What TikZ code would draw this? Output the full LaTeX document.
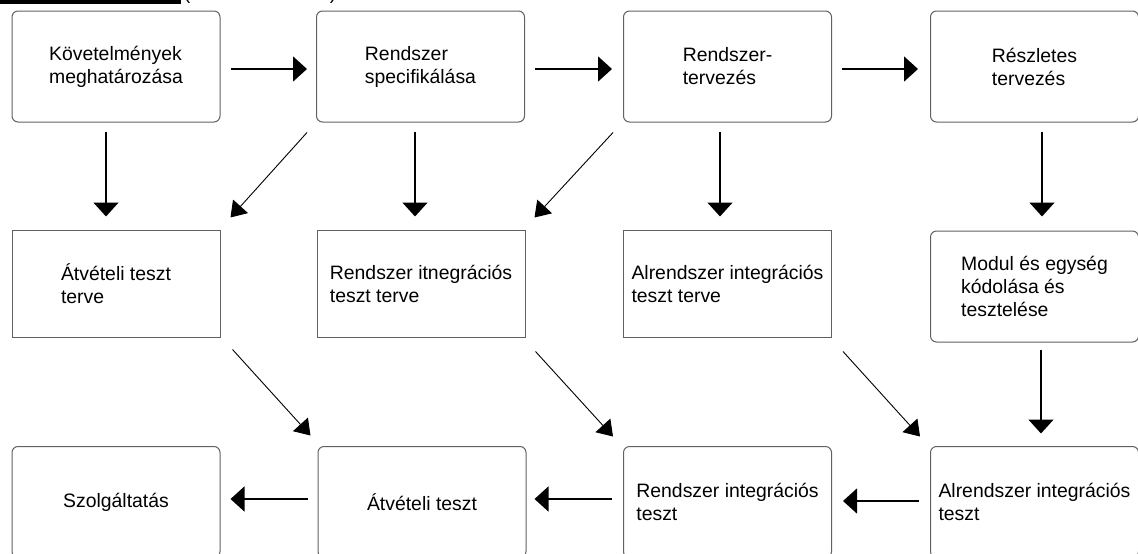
\documentclass[tikz,border=0pt]{standalone}
\usepackage{fontspec}
\setmainfont{Liberation Sans}
\usetikzlibrary{arrows.meta,calc}
\begin{document}
\begin{tikzpicture}[x=1pt,y=-1pt,
  box/.style={draw=black!62,line width=1pt,minimum width=208pt,minimum height=111pt,align=left,inner sep=0pt,font=\fontsize{19.4}{23}\selectfont},
  rbox/.style={box,rounded corners=6pt},
  sbox/.style={box,minimum height=107pt},
  arr/.style={line width=1.6pt,-{Triangle[length=14pt,width=25pt]}},
  darr/.style={line width=0.9pt,-{Triangle[length=15pt,width=20pt]}}
]
\useasboundingbox (0,0) rectangle (1138,554);
\clip (0,0) rectangle (1138,554);
\fill[black] (0,0) rectangle (181,4);
\node[font=\fontsize{19.4}{23}\selectfont,anchor=base,inner sep=0pt] (lp) at (187,-0.5) {(};
\node[font=\fontsize{19.4}{23}\selectfont,anchor=base,inner sep=0pt] (rp) at (333,-0.5) {)};

\node[rbox] (A) at (116,66.5) {Követelmények\\meghatározása};
\node[rbox] (B) at (420.5,66.5) {Rendszer\\specifikálása};
\node[rbox] (C) at (727.5,66.5) {Rendszer-\\tervezés};
\node[rbox] (D) at (1034.5,66.5) {Részletes\\tervezés};
\node[sbox] (E) at (116,283.5) {Átvételi teszt\\terve};
\node[sbox] (F) at (421,283.5) {Rendszer itnegrációs\\teszt terve};
\node[sbox] (G) at (727.5,284) {Alrendszer integrációs\\teszt terve};
\node[rbox] (H) at (1034.5,286.5) {Modul és egység\\kódolása és\\tesztelése};
\node[rbox] (I) at (116,502) {Szolgáltatás};
\node[rbox] (J) at (422,502) {Átvételi teszt};
\node[rbox] (K) at (727.5,502) {Rendszer integrációs\\teszt};
\node[rbox] (L) at (1034.5,502) {Alrendszer integrációs\\teszt};

% row 1 horizontal
\draw[arr] ([shift={(10,2.5)}]A.east) -- ([shift={(-9,2.5)}]B.west);
\draw[arr] ([shift={(10,2.5)}]B.east) -- ([shift={(-11,2.5)}]C.west);
\draw[arr] ([shift={(10,2.5)}]C.east) -- ([shift={(-12,2.5)}]D.west);
% verticals
\draw[arr] ([shift={(-10,9)}]A.south) -- ([shift={(-10,-13)}]E.north);
\draw[arr] ([shift={(-5.5,9)}]B.south) -- ([shift={(-6,-13)}]F.north);
\draw[arr] ([shift={(-7.5,9)}]C.south) -- ([shift={(-7.5,-13.5)}]G.north);
\draw[arr] ([shift={(7.5,9)}]D.south) -- ([shift={(7.5,-14)}]H.north);
\draw[arr] ([shift={(6.5,7)}]H.south) -- ([shift={(6.5,-12.5)}]L.north);
% row 3 horizontal
\draw[arr] ([shift={(-11,-1)}]L.west) -- ([shift={(11,-1)}]K.east);
\draw[arr] ([shift={(-11,-3)}]K.west) -- ([shift={(8,-3)}]J.east);
\draw[arr] ([shift={(-10,-3)}]J.west) -- ([shift={(10,-3)}]I.east);
% diagonals
\draw[darr] ([shift={(-9,10)}]B.south west) -- ([shift={(10,-12)}]E.north east);
\draw[darr] ([shift={(-10,10)}]C.south west) -- ([shift={(9,-12)}]F.north east);
\draw[darr] ([shift={(12,12)}]E.south east) -- ([shift={(-7,-10.5)}]J.north west);
\draw[darr] ([shift={(10,14)}]F.south east) -- ([shift={(-10,-9.5)}]K.north west);
\draw[darr] ([shift={(11,13.5)}]G.south east) -- ([shift={(-10,-9.5)}]L.north west);
\end{tikzpicture}
\end{document}
